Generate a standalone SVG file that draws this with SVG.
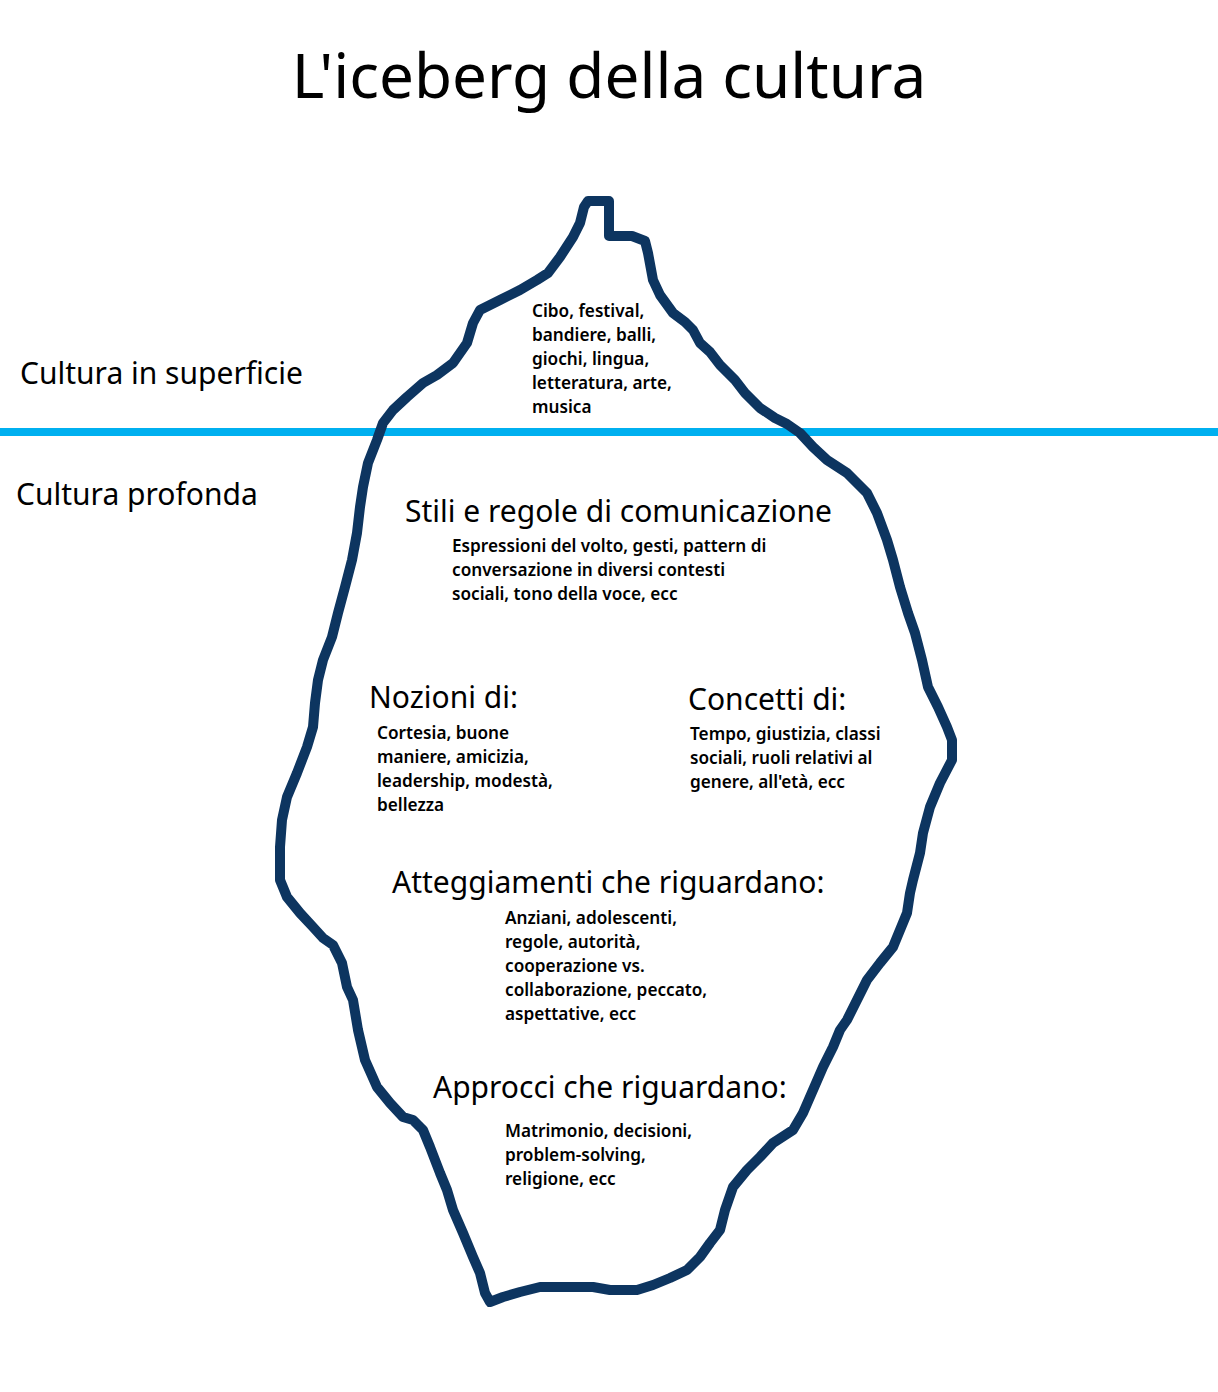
<svg xmlns="http://www.w3.org/2000/svg" width="1218" height="1392" viewBox="0 0 1218 1392">
<style>
text{font-family:"Noto Sans","Open Sans","DejaVu Sans",sans-serif;fill:#000}
.title{font-size:62px}
.h{font-size:30px}
.s{font-size:17.2px;font-weight:600}
.ice{fill:none;stroke:#0D3560;stroke-width:10;stroke-linejoin:round;stroke-linecap:round}
.water{stroke:#00B0F0;stroke-width:8}
</style>
<rect width="1218" height="1392" fill="#fff"/>
<g id="title"><text class="title" x="609" y="98" text-anchor="middle">L'iceberg della cultura</text></g>
<g id="connectors">
<line class="water" x1="0" y1="432" x2="1218" y2="432"/>
</g>
<g id="iceberg">
<path class="ice" d="M588,201 L609,201 L609,236 L632,236 L645,241 L648,253 L653,280 L660,295 L673,313 L685,322 L693,330 L700,343 L710,352 L720,365 L735,380 L745,393 L760,408 L775,418 L787,424 L800,433 L813,447 L827,460 L847,473 L867,493 L877,513 L887,540 L893,560 L900,587 L908,613 L915,633 L922,660 L928,687 L938,707 L947,727 L952,740 L952,760 L940,783 L930,807 L923,833 L920,853 L913,880 L910,893 L907,913 L900,930 L893,947 L880,963 L867,980 L857,1000 L847,1020 L840,1030 L833,1047 L823,1067 L813,1090 L803,1113 L793,1130 L773,1143 L760,1157 L747,1170 L733,1187 L725,1210 L720,1230 L710,1243 L700,1257 L687,1270 L670,1278 L653,1285 L637,1290 L610,1290 L593,1287 L540,1287 L520,1292 L503,1297 L490,1302 L485,1293 L480,1273 L473,1257 L463,1233 L453,1210 L447,1190 L440,1173 L430,1147 L423,1130 L413,1120 L403,1117 L390,1103 L377,1087 L365,1060 L358,1030 L353,1000 L347,987 L342,963 L333,945 L323,938 L313,927 L300,913 L287,897 L280,880 L280,847 L282,820 L287,797 L297,773 L307,747 L313,727 L315,703 L318,680 L323,660 L332,637 L338,613 L345,587 L352,560 L357,533 L360,507 L363,487 L368,463 L377,440 L383,423 L393,410 L407,397 L423,383 L437,375 L453,363 L467,343 L473,323 L480,310 L500,300 L520,290 L537,280 L548,273 L560,257 L573,237 L580,223 L584,207 Z"/>
</g>
<g id="label-superficie"><text class="h" x="20" y="384">Cultura in superficie</text></g>
<g id="label-profonda"><text class="h" x="16" y="505">Cultura profonda</text></g>
<g id="node-superficie">
<text class="s" x="532" y="317">Cibo, festival,</text>
<text class="s" x="532" y="341">bandiere, balli,</text>
<text class="s" x="532" y="365">giochi, lingua,</text>
<text class="s" x="532" y="389">letteratura, arte,</text>
<text class="s" x="532" y="413">musica</text>
</g>
<g id="node-stili">
<text class="h" x="405" y="522">Stili e regole di comunicazione</text>
<text class="s" x="452" y="552">Espressioni del volto, gesti, pattern di</text>
<text class="s" x="452" y="576">conversazione in diversi contesti</text>
<text class="s" x="452" y="600">sociali, tono della voce, ecc</text>
</g>
<g id="node-nozioni">
<text class="h" x="369" y="708">Nozioni di:</text>
<text class="s" x="377" y="739">Cortesia, buone</text>
<text class="s" x="377" y="763">maniere, amicizia,</text>
<text class="s" x="377" y="787">leadership, modestà,</text>
<text class="s" x="377" y="811">bellezza</text>
</g>
<g id="node-concetti">
<text class="h" x="688" y="710">Concetti di:</text>
<text class="s" x="690" y="740">Tempo, giustizia, classi</text>
<text class="s" x="690" y="764">sociali, ruoli relativi al</text>
<text class="s" x="690" y="788">genere, all'età, ecc</text>
</g>
<g id="node-atteggiamenti">
<text class="h" x="392" y="893">Atteggiamenti che riguardano:</text>
<text class="s" x="505" y="924">Anziani, adolescenti,</text>
<text class="s" x="505" y="948">regole, autorità,</text>
<text class="s" x="505" y="972">cooperazione vs.</text>
<text class="s" x="505" y="996">collaborazione, peccato,</text>
<text class="s" x="505" y="1020">aspettative, ecc</text>
</g>
<g id="node-approcci">
<text class="h" x="433" y="1098">Approcci che riguardano:</text>
<text class="s" x="505" y="1137">Matrimonio, decisioni,</text>
<text class="s" x="505" y="1161">problem-solving,</text>
<text class="s" x="505" y="1185">religione, ecc</text>
</g>
</svg>
